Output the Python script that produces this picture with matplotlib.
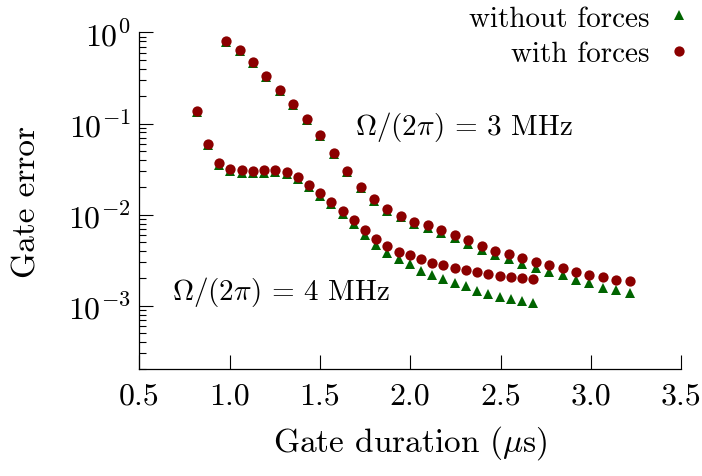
import matplotlib
matplotlib.use("Agg")
import matplotlib.pyplot as plt
from matplotlib.lines import Line2D
from matplotlib.ticker import LogLocator, NullFormatter

plt.rcParams["font.family"] = "serif"
plt.rcParams["font.serif"] = ["cmr10", "DejaVu Serif"]
plt.rcParams["mathtext.fontset"] = "cm"
plt.rcParams["axes.formatter.use_mathtext"] = True

# gate durations (us)
t_3mhz = [0.980, 1.055, 1.129, 1.204, 1.278, 1.353, 1.427, 1.502, 1.576, 1.651,
          1.725, 1.800, 1.874, 1.949, 2.023, 2.098, 2.172, 2.247, 2.321, 2.396,
          2.470, 2.545, 2.619, 2.694, 2.768, 2.843, 2.917, 2.992, 3.066, 3.141, 3.215]
t_4mhz = [0.818, 0.880, 0.942, 1.004, 1.066, 1.129, 1.191, 1.253, 1.315, 1.377,
          1.439, 1.501, 1.563, 1.625, 1.687, 1.750, 1.812, 1.874, 1.936, 1.998,
          2.060, 2.122, 2.184, 2.246, 2.308, 2.371, 2.433, 2.495, 2.557, 2.619, 2.681]

# gate error, with forces
err_forces_3mhz = [0.813, 0.647, 0.478, 0.335, 0.235, 0.164, 0.111, 0.0748, 0.0477, 0.0301,
                   0.0202, 0.0147, 0.0116, 0.0097, 0.00842, 0.00767, 0.00676, 0.0060, 0.00525, 0.00454,
                   0.00404, 0.00371, 0.00333, 0.00305, 0.00279, 0.00258, 0.00235, 0.00216, 0.00206, 0.00192, 0.00186]
err_forces_4mhz = [0.139, 0.060, 0.0366, 0.0318, 0.0307, 0.0301, 0.0306, 0.0308, 0.0291, 0.0262,
                   0.0212, 0.0171, 0.0138, 0.0111, 0.00870, 0.00676, 0.00538, 0.00448, 0.00394, 0.00363,
                   0.00324, 0.00298, 0.00281, 0.00263, 0.00247, 0.00235, 0.00224, 0.00215, 0.00207, 0.00200, 0.00197]

# gate error, without forces
err_noforces_3mhz = [0.792, 0.631, 0.466, 0.327, 0.229, 0.160, 0.109, 0.0729, 0.0466, 0.0293,
                     0.0195, 0.0142, 0.0111, 0.00934, 0.0080, 0.00719, 0.00627, 0.00556, 0.00480, 0.00410,
                     0.00360, 0.00327, 0.00290, 0.00258, 0.00235, 0.00218, 0.00192, 0.00177, 0.00157, 0.00148, 0.00137]
err_noforces_4mhz = [0.1355, 0.0585, 0.035, 0.0301, 0.0290, 0.0284, 0.0290, 0.0293, 0.0277, 0.0249,
                     0.0200, 0.0162, 0.0130, 0.0103, 0.00796, 0.00603, 0.00462, 0.00378, 0.00324, 0.00286,
                     0.00241, 0.00216, 0.00196, 0.00180, 0.00163, 0.00147, 0.00135, 0.00125, 0.00118, 0.00112, 0.00107]

x_ticks = [0.5, 1.0, 1.5, 2.0, 2.5, 3.0, 3.5]
y_ticks = [1e-3, 1e-2, 1e-1, 1e0]
y_ticklabels = [r"$10^{-3}$", r"$10^{-2}$", r"$10^{-1}$", r"$10^{0}$"]

red = "#8b0000"
green = "#006400"

fig = plt.figure(figsize=(7.02, 4.77), dpi=100)
ax = fig.add_axes([0.1984, 0.2233, 0.7720, 0.7065])

ax.plot(t_3mhz, err_noforces_3mhz, ls="none", marker="^", ms=6.8, color=green, mew=0, zorder=2)
ax.plot(t_4mhz, err_noforces_4mhz, ls="none", marker="^", ms=6.8, color=green, mew=0, zorder=2)
ax.plot(t_3mhz, err_forces_3mhz, ls="none", marker="o", ms=7.4, color=red, mew=0, zorder=3)
ax.plot(t_4mhz, err_forces_4mhz, ls="none", marker="o", ms=7.4, color=red, mew=0, zorder=3)

ax.set_yscale("log")
ax.set_xlim(0.5, 3.5)
ax.set_ylim(2e-4, 1)
ax.set_xticks(x_ticks)
ax.set_xticklabels([f"{v:.1f}" for v in x_ticks])
ax.set_yticks(y_ticks)
ax.set_yticklabels(y_ticklabels)
ax.yaxis.set_minor_locator(LogLocator(base=10, subs=range(2, 10)))
ax.yaxis.set_minor_formatter(NullFormatter())

for s in ["top", "right"]:
    ax.spines[s].set_visible(False)
for s in ["left", "bottom"]:
    ax.spines[s].set_linewidth(0.9)

ax.tick_params(axis="both", which="major", direction="in", length=10, width=0.8,
               labelsize=23, pad=6)
ax.tick_params(axis="y", which="minor", direction="in", length=5, width=0.8)
ax.tick_params(axis="x", which="major", pad=9)

ax.set_xlabel(r"Gate duration ($\mu$s)", fontsize=24, labelpad=10)
ax.set_ylabel("Gate error", fontsize=24, labelpad=19)

ax.text(1.694, 0.094, r"$\Omega/(2\pi)$ = 3 MHz", fontsize=21, va="center", ha="left")
ax.text(0.681, 0.00144, r"$\Omega/(2\pi)$ = 4 MHz", fontsize=21, va="center", ha="left")

handles = [Line2D([], [], ls="none", marker="^", ms=6.8, color=green, mew=0),
           Line2D([], [], ls="none", marker="o", ms=7.4, color=red, mew=0)]
ax.legend(handles, ["without forces", "with forces"], loc="upper right",
          bbox_to_anchor=(1.009, 1.03), bbox_transform=fig.transFigure,
          frameon=False, markerfirst=False, fontsize=21, handlelength=0.6,
          handletextpad=0.7, labelspacing=0.32, borderpad=0.2)

fig.savefig("out.png", dpi=100)
